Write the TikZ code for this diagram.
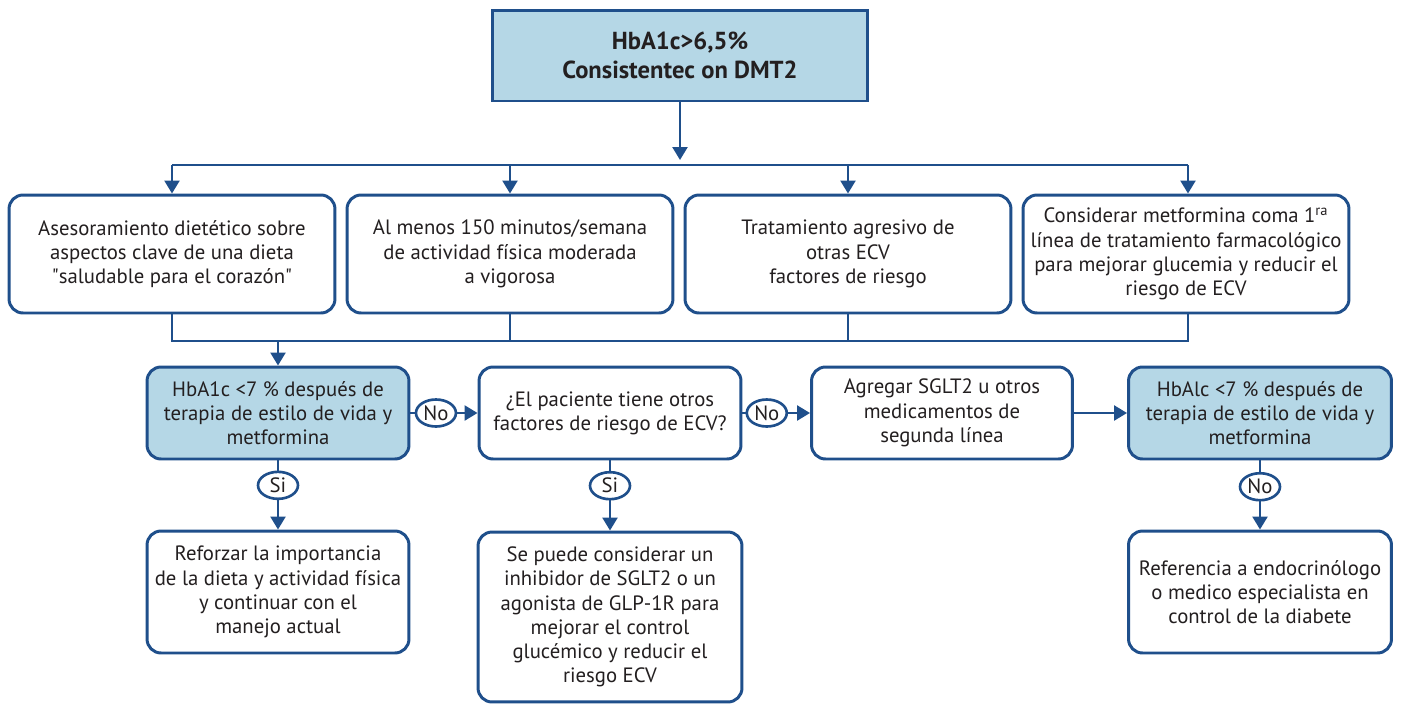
\documentclass[tikz,border=0pt]{standalone}
\usepackage{fontspec}
\setmainfont{PT Sans}
\usepackage{xcolor}
\usepackage{tikz}
\usetikzlibrary{arrows.meta,positioning,shapes}
\definecolor{dkblue}{HTML}{1F4F8B}
\definecolor{ltblue}{HTML}{B5D7E6}
\definecolor{ink}{HTML}{231F20}

\begin{document}
\begin{tikzpicture}[x=0.02cm, y=-0.02cm,
    box/.style={draw=dkblue, line width=1.7pt, rounded corners=0.28cm, fill=white, text=ink, align=center,
        font=\fontsize{11.8}{13.8}\selectfont, inner sep=0pt},
    bluebox/.style={box, fill=ltblue},
    ans/.style={draw=dkblue, line width=1.5pt, ellipse, fill=white, text=ink, inner sep=0pt,
        minimum width=0.8cm, minimum height=0.54cm, font=\fontsize{11.8}{13.8}\selectfont},
    line/.style={draw=dkblue, line width=1.4pt},
    conn/.style={line, -{Triangle[length=0.26cm, width=0.3cm]}}]
                        \useasboundingbox (0,0) rectangle (1401,704);
                        \node[draw=dkblue, line width=1.7pt, fill=ltblue, text=ink, align=center, minimum width=7.52cm, minimum height=1.82cm,
                            font=\bfseries\fontsize{14}{16.5}\selectfont] (top) at (680,55.5) {HbA1c>6,5\%\\Consistentec on DMT2};
                        \node[box, minimum width=6.52cm, minimum height=2.36cm] (dieta) at (172,254) {Asesoramiento dietético sobre\\aspectos clave de una dieta\\\textquotedbl saludable para el corazón\textquotedbl};
                        \node[box, minimum width=6.52cm, minimum height=2.36cm] (activ) at (510,254) {Al menos 150 minutos/semana\\de actividad física moderada\\a vigorosa};
                        \node[box, minimum width=6.52cm, minimum height=2.36cm] (trat) at (848,254) {Tratamiento agresivo de\\otras ECV\\factores de riesgo};
                        \node[box, minimum width=6.52cm, minimum height=2.36cm] (metf) at (1186,254) {Considerar metformina coma 1\textsuperscript{ra}\\línea de tratamiento farmacológico\\para mejorar glucemia y reducir el\\riesgo de ECV};
                        \node[bluebox, minimum width=5.24cm, minimum height=1.84cm] (hba) at (278,413) {HbA1c <7 \% después de\\terapia de estilo de vida y\\metformina};
                        \node[box, minimum width=5.24cm, minimum height=1.84cm] (pac) at (610,413) {¿El paciente tiene otros\\factores de riesgo de ECV?};
                        \node[box, minimum width=5.22cm, minimum height=1.84cm] (sglt) at (942,413) {Agregar SGLT2 u otros\\medicamentos de\\segunda línea};
                        \node[bluebox, minimum width=5.26cm, minimum height=1.84cm] (hbb) at (1260,413) {HbAlc <7 \% después de\\terapia de estilo de vida y\\metformina};
                        \node[box, minimum width=5.24cm, minimum height=2.44cm] (refo) at (278,592) {Reforzar la importancia\\de la dieta y actividad física\\y continuar con el\\manejo actual};
                        \node[box, minimum width=5.28cm, minimum height=3.4cm] (inhib) at (610,617) {Se puede considerar un\\inhibidor de SGLT2 o un\\agonista de GLP-1R para\\mejorar el control\\glucémico y reducir el\\riesgo ECV};
                        \node[box, minimum width=5.26cm, minimum height=2.44cm] (endo) at (1260,592) {Referencia a endocrinólogo\\o medico especialista en\\control de la diabete};
                        \coordinate (split) at (680,160);
                        \coordinate (busL) at (172,165);
                        \coordinate (busR) at (1188,165);
                        \coordinate (joinL) at (172,341);
                        \coordinate (joinR) at (1188,341);
                        \draw[conn] (top) -- (split);
                        \draw[line] (busL) -- (busR);
                        \draw[conn] (busL) -- (dieta);
                        \draw[conn] (activ.north |- busL) -- (activ);
                        \draw[conn] (trat.north |- busL) -- (trat);
                        \draw[conn] (busR) -- (busR |- metf.north);
                        \draw[line] (dieta.south) -- (joinL) -- (joinR) -- (joinR |- metf.south);
                        \draw[line] (activ.south) -- (activ.south |- joinL);
                        \draw[line] (trat.south) -- (trat.south |- joinL);
                        \draw[conn] (hba.north |- joinL) -- (hba);
                        \draw[conn] (hba) -- node[ans, pos=0.38] {No} (pac);
                        \draw[conn] (pac) -- node[ans, pos=0.36] {No} (sglt);
                        \draw[conn] (sglt) -- (hbb);
                        \draw[conn] (hba) -- node[ans, pos=0.36] {Si} (refo);
                        \draw[conn] (pac) -- node[ans, pos=0.36] {Si} (inhib);
                        \draw[conn] (hbb) -- node[ans, pos=0.38] {No} (endo);
                        \end{tikzpicture}
\end{document}
